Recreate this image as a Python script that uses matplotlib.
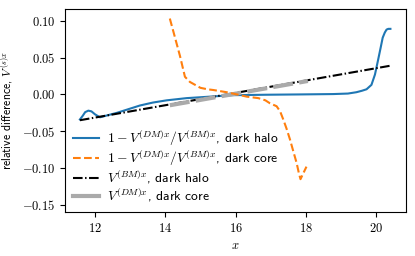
import matplotlib.pyplot as plt
from matplotlib.ticker import FuncFormatter

plt.rcParams['mathtext.fontset'] = 'cm'
plt.rcParams['font.family'] = ['cmss10', 'DejaVu Sans']
plt.rcParams['font.size'] = 8

# dark halo: 1 - V(DM)/V(BM)
halo_x = [11.57, 11.65, 11.72, 11.81, 11.9, 12.0, 12.14, 12.3, 12.62, 12.95, 13.28, 13.65,
          14.04, 14.61, 15.27, 15.92, 16.88, 17.8, 18.78, 19.2, 19.44, 19.6, 19.73, 19.87,
          19.97, 20.06, 20.13, 20.19, 20.25, 20.3, 20.35, 20.41]
halo_y = [-0.034, -0.029, -0.024, -0.022, -0.023, -0.027, -0.031, -0.029, -0.025, -0.02, -0.015, -0.011,
          -0.008, -0.005, -0.003, -0.001, -0.0004, 0.0, 0.0005, 0.0012, 0.003, 0.005, 0.007, 0.013,
          0.027, 0.047, 0.063, 0.077, 0.084, 0.088, 0.089, 0.089]

# dark core: 1 - V(DM)/V(BM)
core_x = [14.13, 14.25, 14.42, 14.56, 14.7, 14.85, 15.0, 15.2, 15.37, 15.75, 16.08, 16.32, 16.65,
          16.85, 16.98, 17.17, 17.27, 17.36, 17.45, 17.55, 17.65, 17.74, 17.8, 17.85, 17.92, 18.02]
core_y = [0.103, 0.082, 0.052, 0.024, 0.017, 0.013, 0.009, 0.007, 0.006, 0.003, -0.0004, -0.003, -0.005,
          -0.008, -0.012, -0.016, -0.023, -0.034, -0.046, -0.061, -0.078, -0.093, -0.106, -0.115, -0.108, -0.098]

# V(BM), dark halo
bm_x = [11.57, 20.41]
bm_y = [-0.035, 0.039]

# V(DM), dark core
dm_x = [14.13, 18.06]
dm_y = [-0.0147, 0.0183]

fig = plt.figure(figsize=(4.15, 2.56), dpi=100)
ax = fig.add_axes([0.157, 0.172, 0.821, 0.793])

ax.plot(halo_x, halo_y, color='#1f77b4', lw=1.5,
        label=r'$1-V^{(DM)x}/V^{(BM)x}$, dark halo')
ax.plot(core_x, core_y, color='#ff7f0e', lw=1.5, ls='--', zorder=3,
        label=r'$1-V^{(DM)x}/V^{(BM)x}$, dark core')
ax.plot(bm_x, bm_y, color='black', lw=1.5, ls=(0, (4.6, 1.2, 0.7, 1.2)),
        label=r'$V^{(BM)x}$, dark halo')
ax.plot(dm_x, dm_y, color='#aaaaaa', lw=3, ls=(0, (4.8, 1.5)),
        label=r'$V^{(DM)x}$, dark core')

ax.set_xlim(11.15, 20.85)
ax.set_ylim(-0.1595, 0.116)
ax.set_xticks([12, 14, 16, 18, 20])
ax.set_yticks([-0.15, -0.10, -0.05, 0.0, 0.05, 0.10])
ax.xaxis.set_major_formatter(FuncFormatter(lambda v, p: f'${v:.0f}$'))
ax.yaxis.set_major_formatter(FuncFormatter(lambda v, p: f'${v:.2f}$'))
ax.tick_params(labelsize=9)

ax.set_xlabel(r'$x$', fontsize=9)
ax.set_ylabel(r'relative difference, $V^{(s)x}$', fontsize=8.5)
leg = ax.legend(loc='lower left', frameon=False, fontsize=9.8, labelspacing=0.0,
                handletextpad=0.55, handlelength=1.9, borderaxespad=0.2)
leg.get_lines()[3].set_linestyle('-')

fig.savefig('out.png', dpi=100)
